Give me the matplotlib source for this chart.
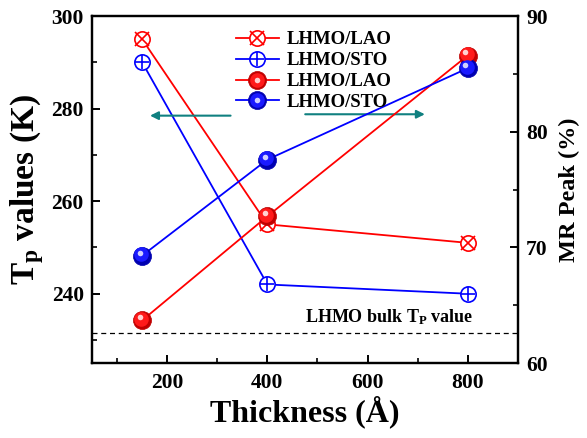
import matplotlib
matplotlib.use("Agg")
import matplotlib.pyplot as plt
import matplotlib.transforms as mtransforms
from matplotlib.ticker import MultipleLocator

# ---------------- Data ----------------
thickness = [150, 400, 800]
tp_lao = [295, 255, 251]
tp_sto = [290, 242, 240]
mr_lao = [63.7, 72.7, 86.6]
mr_sto = [69.3, 77.6, 85.5]
bulk_tp = 231.5
labels = ["LHMO/LAO", "LHMO/STO", "LHMO/LAO", "LHMO/STO"]

# ---------------- Style ----------------
plt.rcParams["font.family"] = ["Liberation Serif", "DejaVu Serif"]
plt.rcParams["font.weight"] = "bold"
plt.rcParams["mathtext.fontset"] = "custom"
plt.rcParams["mathtext.rm"] = "Liberation Serif:bold"
plt.rcParams["mathtext.bf"] = "Liberation Serif:bold"
plt.rcParams["mathtext.it"] = "Liberation Serif:bold"

fig = plt.figure(figsize=(5.87, 4.38), dpi=100)
ax = fig.add_axes([0.157, 0.171, 0.725, 0.792])
ax2 = ax.twinx()

RED = "#ff0000"
BLUE = "#0000ff"


def hollow(axis, y, color, inner):
    l1, = axis.plot(thickness, y, "-", color=color, lw=1.3, marker="o", ms=11,
                    mfc="white", mec=color, mew=1.2, zorder=3)
    l2, = axis.plot(thickness, y, ls="none", marker=inner, ms=9.5, mec=color,
                    mew=1.2, zorder=4)
    return (l1, l2)


def ball(axis, y, color, dark, mid, light):
    l1, = axis.plot(thickness, y, "-", color=color, lw=1.3, marker="o", ms=13,
                    mfc=dark, mec=dark, mew=0.5, zorder=5)
    off1 = mtransforms.offset_copy(axis.transData, fig=fig, x=-0.7, y=0.8, units="points")
    l2, = axis.plot(thickness, y, ls="none", marker="o", ms=10.5, mfc=mid,
                    mec=mid, mew=0, transform=off1, zorder=6)
    off2 = mtransforms.offset_copy(axis.transData, fig=fig, x=-1.8, y=2.2, units="points")
    l3, = axis.plot(thickness, y, ls="none", marker="o", ms=4, mfc=light,
                    mec=light, mew=0, transform=off2, zorder=7)
    return (l1, l2, l3)


h1 = hollow(ax, tp_lao, RED, "x")
h2 = hollow(ax, tp_sto, BLUE, "+")
h3 = ball(ax2, mr_lao, RED, "#c00000", "#ff1a1a", "#ffd0d0")
h4 = ball(ax2, mr_sto, BLUE, "#0000b0", "#1a1aff", "#d0d0ff")

ax.axhline(bulk_tp, color="black", ls=(0, (4, 3)), lw=0.9)
ax.text(476, bulk_tp + 1.4, r"LHMO bulk T$_{\mathrm{P}}$ value", fontsize=13,
        fontweight="bold", ha="left", va="bottom")

# arrows
ax.annotate("", xy=(160, 278.5), xytext=(332, 278.5),
            arrowprops=dict(arrowstyle="-|>", color="#108080", lw=1.5,
                            mutation_scale=12))
ax.annotate("", xy=(720, 278.8), xytext=(470, 278.8),
            arrowprops=dict(arrowstyle="-|>", color="#108080", lw=1.5,
                            mutation_scale=12))

ax.set_xlim(50, 900)
ax.set_ylim(225, 300)
ax2.set_ylim(60, 90)

ax.xaxis.set_major_locator(MultipleLocator(200))
ax.xaxis.set_minor_locator(MultipleLocator(100))
ax.yaxis.set_major_locator(MultipleLocator(20))
ax.yaxis.set_minor_locator(MultipleLocator(10))
ax2.yaxis.set_major_locator(MultipleLocator(10))
ax2.yaxis.set_minor_locator(MultipleLocator(5))

for a in (ax, ax2):
    for s in a.spines.values():
        s.set_linewidth(1.6)
    a.tick_params(which="major", direction="in", length=6, width=1.4, labelsize=15.5)
    a.tick_params(which="minor", direction="in", length=3.5, width=1.2)
ax.tick_params(axis="x", pad=7)
ax.tick_params(axis="y", pad=6)
ax2.tick_params(axis="y", pad=6)
for lab in ax.get_xticklabels() + ax.get_yticklabels() + ax2.get_yticklabels():
    lab.set_fontweight("bold")

ax.set_xlabel("Thickness (Å)", fontsize=23, fontweight="bold", labelpad=2)
ax.set_ylabel(r"T$_{\mathrm{p}}$ values (K)", fontsize=24, fontweight="bold", labelpad=4)
ax2.set_ylabel("MR Peak (%)", fontsize=17.5, fontweight="bold", labelpad=8)

leg = ax2.legend([h1, h2, h3, h4], labels, loc="upper center",
                 bbox_to_anchor=(0.52, 1.0), frameon=False, fontsize=13.5,
                 handlelength=2.3, handletextpad=0.4, labelspacing=0.2,
                 borderaxespad=0.4)
for t in leg.get_texts():
    t.set_fontweight("bold")

fig.savefig("out.png", dpi=100)
